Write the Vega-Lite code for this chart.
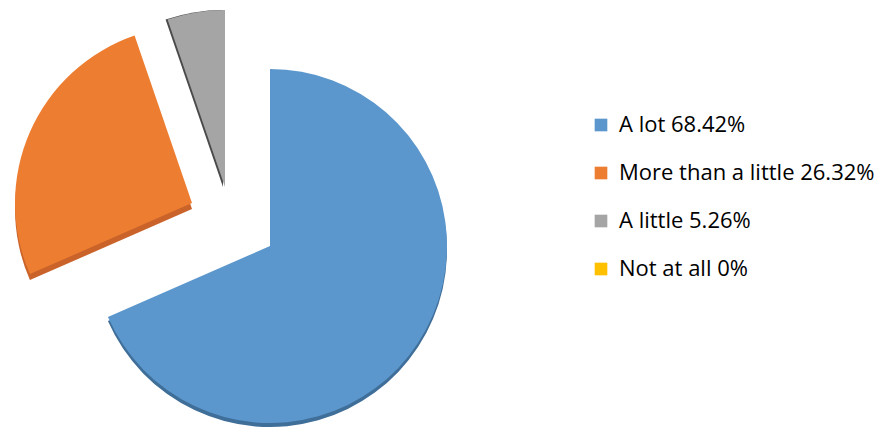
{
  "$schema": "https://vega.github.io/schema/vega-lite/v6.json",
  "autosize": {"type": "none"},
  "width": 540,
  "height": 374,
  "padding": {"left": 0, "top": 59, "right": 353, "bottom": 0},
  "background": "white",
  "data": {
    "values": [
      {"category": "A lot", "label": "A lot 68.42%", "value": 68.42, "rank": 1},
      {"category": "More than a little", "label": "More than a little 26.32%", "value": 26.32, "rank": 2},
      {"category": "A little", "label": "A little 5.26%", "value": 5.26, "rank": 3},
      {"category": "Not at all", "label": "Not at all 0%", "value": 0, "rank": 4}
    ]
  },
  "transform": [
    {"stack": "value", "groupby": [], "sort": [{"field": "rank", "order": "ascending"}], "as": ["v0", "v1"]}
  ],
  "encoding": {
    "theta": {"field": "v0", "type": "quantitative", "scale": {"domain": [0, 100]}},
    "theta2": {"field": "v1"}
  },
  "layer": [
    {
      "transform": [{"filter": "datum.category == 'A lot'"}],
      "mark": {"type": "arc", "radius": 177, "color": "#3F6E99", "yOffset": 4},
      "encoding": {}
    },
    {
      "transform": [{"filter": "datum.category == 'More than a little'"}],
      "mark": {"type": "arc", "radius": 177, "color": "#C9632A", "xOffset": -78, "yOffset": -37},
      "encoding": {}
    },
    {
      "transform": [{"filter": "datum.category == 'A little'"}],
      "mark": {"type": "arc", "radius": 177, "color": "#4A4A4A", "xOffset": -47, "yOffset": -59},
      "encoding": {}
    },
    {
      "transform": [{"filter": "datum.category == 'A lot'"}],
      "mark": {"type": "arc", "radius": 177},
      "encoding": {
        "color": {
          "field": "label", "type": "nominal",
          "scale": {
            "domain": ["A lot 68.42%", "More than a little 26.32%", "A little 5.26%", "Not at all 0%"],
            "range": ["#5B97CC", "#ED7D31", "#A5A5A5", "#FFC000"]
          },
          "legend": {
            "title": null,
            "orient": "none",
            "legendX": 590,
            "legendY": 55,
            "symbolType": "square",
            "symbolSize": 160,
            "symbolStrokeWidth": 0,
            "labelFont": "Open Sans",
            "labelFontSize": 22,
            "labelColor": "#000000",
            "labelOffset": 7,
            "labelLimit": 400,
            "rowPadding": 26
          }
        }
      }
    },
    {
      "transform": [{"filter": "datum.category == 'More than a little'"}],
      "mark": {"type": "arc", "radius": 177, "xOffset": -78, "yOffset": -43},
      "encoding": {"color": {"field": "label", "type": "nominal"}}
    },
    {
      "transform": [{"filter": "datum.category == 'A little'"}],
      "mark": {"type": "arc", "radius": 177, "xOffset": -45, "yOffset": -59},
      "encoding": {"color": {"field": "label", "type": "nominal"}}
    }
  ]
}
